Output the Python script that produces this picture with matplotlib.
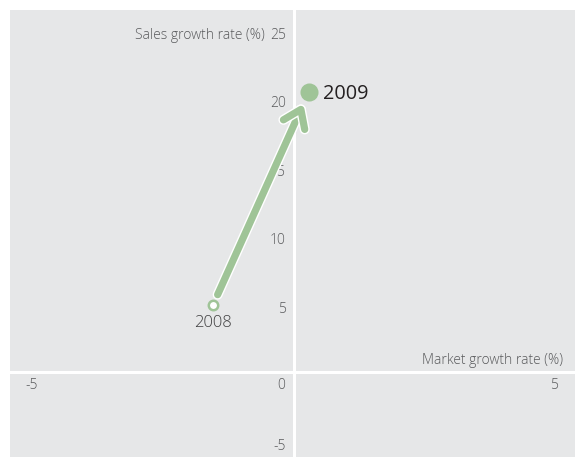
import matplotlib.pyplot as plt
import matplotlib.patheffects as pe
from matplotlib.transforms import offset_copy

# Market vs sales growth, 2008 -> 2009
years = ['2008', '2009']
market_growth = [-1.48, 0.27]
sales_growth = [4.9, 20.4]

x_ticks = [-5, 0, 5]
y_ticks = [-5, 5, 10, 15, 20, 25]

bg = '#e6e7e8'
green = '#9fc497'
tick_color = '#58595b'

plt.rcParams['font.family'] = ['Open Sans', 'DejaVu Sans']
plt.rcParams['font.weight'] = 'light'

fig = plt.figure(figsize=(5.75, 4.58), dpi=100)
ax = fig.add_axes([10 / 575, 1 / 458, 565 / 575, 447 / 458])
ax.set_facecolor(bg)
ax.set_xlim(-5.2, 5.15)
ax.set_ylim(-6.2, 26.4)
for s in ax.spines.values():
    s.set_visible(False)
ax.set_xticks([])
ax.set_yticks([])

# white cross through the origin
ax.axvline(0, color='white', lw=2.2, zorder=1)
ax.axhline(0, color='white', lw=2.2, zorder=1)


def shifted(dx, dy):
    return offset_copy(ax.transData, fig, x=dx, y=dy, units='dots')


fs = 10
# tick labels
for v in y_ticks:
    ax.text(0, v, str(v), transform=shifted(-8, -6), ha='right', va='center',
            fontsize=fs, color=tick_color, zorder=3)
for v in x_ticks:
    if v < 0:
        ax.text(v, 0, str(v), transform=shifted(4, -14), ha='left', va='center',
                fontsize=fs, color=tick_color, zorder=3)
    else:
        ax.text(v, 0, str(v), transform=shifted(-9, -14), ha='right', va='center',
                fontsize=fs, color=tick_color, zorder=3)

ax.text(0, 25, 'Sales growth rate (%)', transform=shifted(-29, -6),
        ha='right', va='center', fontsize=fs, color=tick_color)
ax.text(5, 0, 'Market growth rate (%)', transform=shifted(-4, 11),
        ha='right', va='center', fontsize=fs, color=tick_color)

# arrow between the two years
ax.annotate('', xy=(market_growth[1], sales_growth[1]),
            xytext=(market_growth[0], sales_growth[0]),
            arrowprops=dict(arrowstyle='->,head_length=0.6,head_width=0.42',
                            mutation_scale=20, lw=5.2, color=green,
                            shrinkA=8, shrinkB=9, capstyle='round',
                            path_effects=[pe.withStroke(linewidth=7.2, foreground='white')]),
            zorder=4)

ax.scatter(market_growth[0], sales_growth[0], s=46, facecolor='white',
           edgecolor=green, linewidth=1.8, zorder=5)
ax.scatter(market_growth[1], sales_growth[1], s=169, color=green,
           linewidth=0, zorder=5)

ax.text(market_growth[1], sales_growth[1], years[1], transform=shifted(14, -2),
        ha='left', va='center', fontsize=14.3, fontweight='normal',
        color='#231f20', zorder=6)
ax.text(market_growth[0], sales_growth[0], years[0], transform=shifted(0, -18),
        ha='center', va='center', fontsize=12, color='#3f3f40', zorder=6)

fig.savefig('out.png', dpi=100, facecolor='white')
